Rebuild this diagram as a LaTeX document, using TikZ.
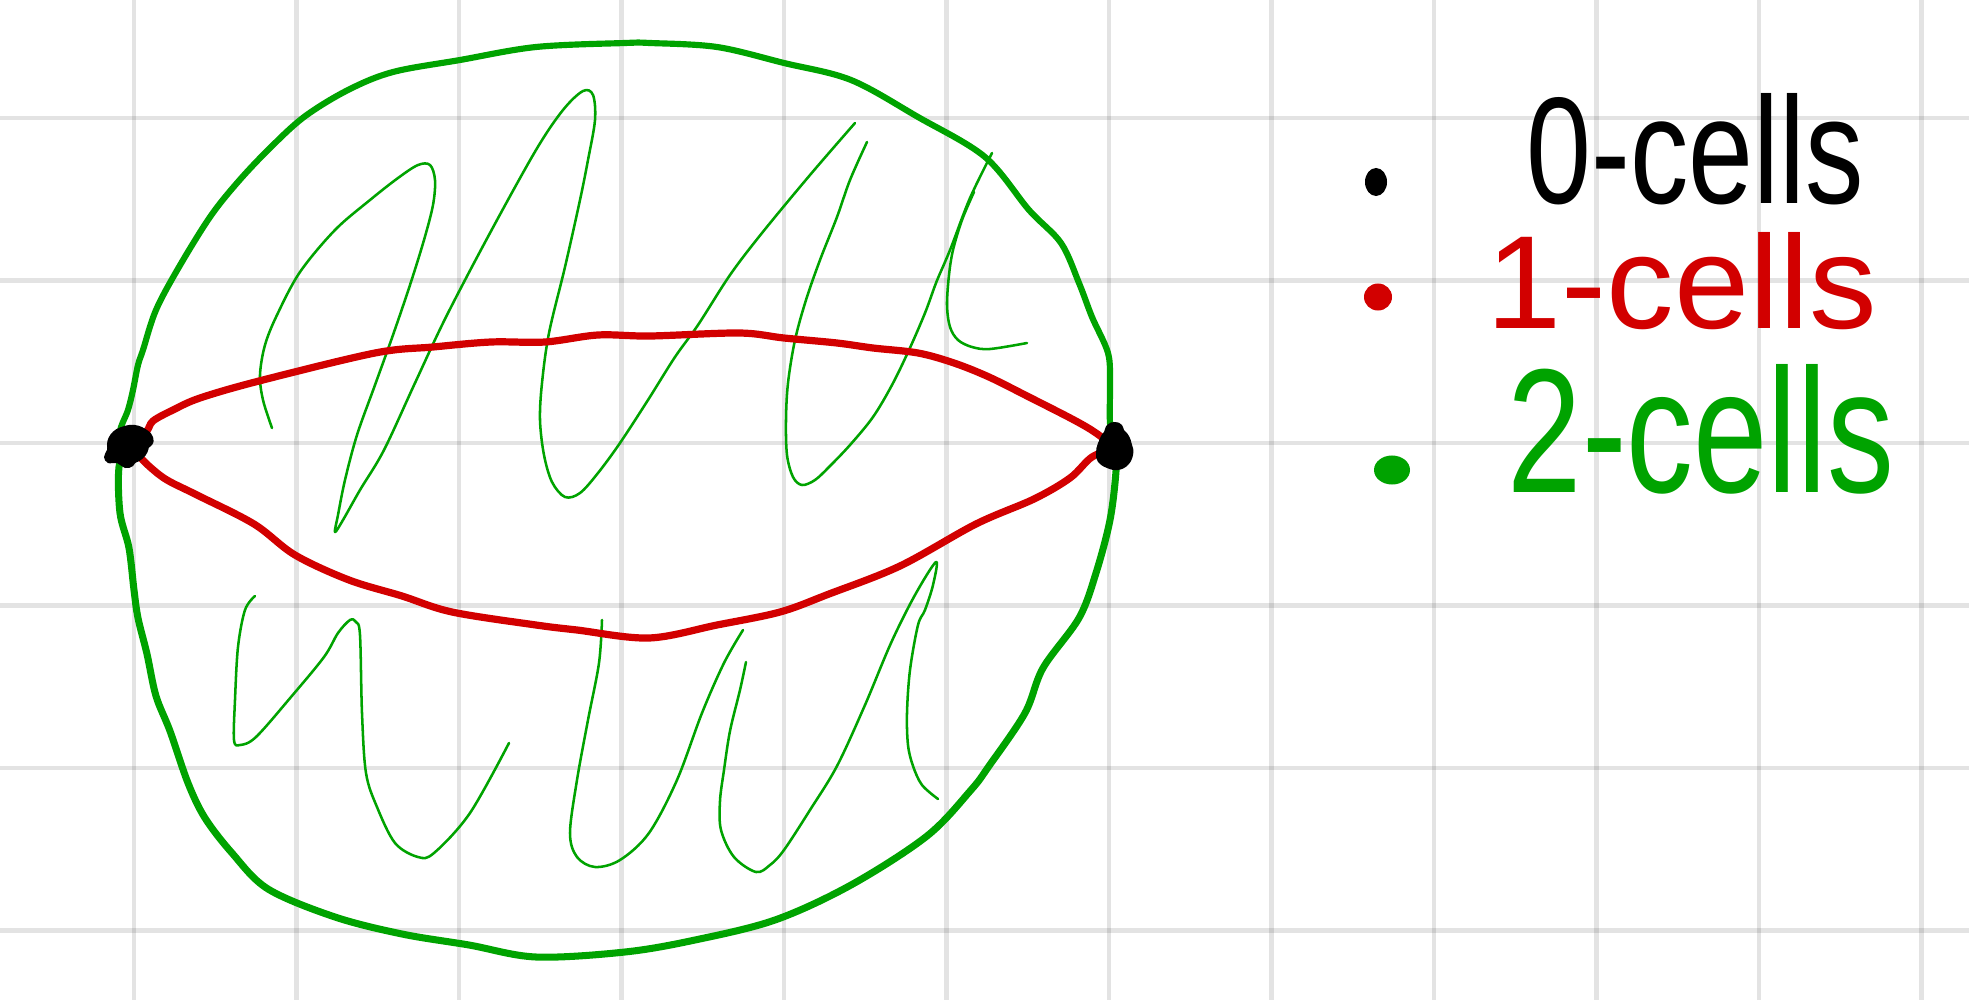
\documentclass[tikz,border=0pt]{standalone}
\usepackage{fontspec}
\usepackage{graphicx}
\usetikzlibrary{shapes.geometric}
\newfontfamily\legendfont{Liberation Sans}
\definecolor{pgreen}{RGB}{0,163,0}
\definecolor{pred}{RGB}{210,0,0}
\pgfdeclarelayer{bg}
\pgfsetlayers{bg,main}
\begin{document}
\begin{tikzpicture}[x=0.01cm, y=-0.01cm,
  gridline/.style={draw=black, opacity=0.11, line width=1.4pt},
  outerup/.style={draw=pgreen, line width=1.75pt, line cap=round, line join=round},
  outerdown/.style={draw=pgreen, line width=2pt, line cap=round, line join=round},
  strand/.style={draw=pgreen, line width=0.72pt, line cap=round, line join=round},
  edgeone/.style={draw=pred, line width=2.05pt, line cap=round, line join=round},
  vertex/.style={ellipse, fill=black, inner sep=0pt},
  legdot/.style={ellipse, inner sep=0pt},
  legtext/.style={anchor=base west, inner sep=0pt}
]
\useasboundingbox (0,0) rectangle (1969,1000);

% 0-cells
\node[vertex, minimum width=0.42cm, minimum height=0.38cm] (v1) at (128,445) {};
\node[vertex, minimum width=0.34cm, minimum height=0.42cm] (v2) at (1115,448) {};
\fill plot[smooth cycle, tension=0.7] coordinates {(112,435) (122,427) (135,425) (147,430) (153,437) (152,445) (142,452) (138,458) (133,466) (125,468) (117,463) (108,463) (104,457) (107,450) (108,442)};
\fill plot[smooth cycle, tension=0.7] coordinates {(1107,425) (1115,422) (1122,425) (1125,433) (1132,445) (1133,455) (1128,465) (1118,470) (1107,468) (1098,462) (1096,453) (1098,443) (1103,435)};

\begin{pgfonlayer}{bg}
\fill[white] (0,0) rectangle (1969,1000);
% grid
\foreach \i in {0,...,11} \draw[gridline] ({134+162.5*\i},0) -- ({134+162.5*\i},1000);
\foreach \j in {0,...,5} \draw[gridline] (0,{118+162.5*\j}) -- (1969,{118+162.5*\j});

% 2-cell hatching strands (upper)
\draw[strand] plot[smooth, tension=0.55] coordinates {(272,428) (263,400) (260,375) (265,345) (277,315) (300,272) (335,230) (370,200) (398,178) (418,165) (430,165) (435,180) (433,205) (424,240) (410,285) (393,335) (375,385) (357,435) (345,480) (338,515) (335,532) (343,520) (360,490) (384,450) (415,383) (446,317) (490,233) (536,150) (563,110) (583,91) (593,95) (595,120) (588,160) (580,200) (565,267) (549,333) (542,383) (540,420) (544,455) (552,482) (565,497) (580,493) (598,473) (620,443) (648,400) (675,357) (698,325) (730,275) (762,233) (810,175) (855,123)};
\draw[strand] plot[smooth, tension=0.55] coordinates {(867,142) (850,180) (837,217) (820,260) (806,300) (795,340) (788,383) (786,420) (787,455) (793,477) (802,485) (815,480) (829,467) (850,445) (873,417) (892,385) (909,350) (925,313) (936,283) (945,262) (952,245) (970,198) (992,153)};
\draw[strand] plot[smooth, tension=0.55] coordinates {(974,192) (962,220) (953,250) (949,275) (947,305) (950,327) (958,340) (972,347) (990,349) (1027,343)};

% 2-cell hatching strands (lower)
\draw[strand] plot[smooth, tension=0.55] coordinates {(255,596) (245,610) (238,647) (235,700) (234,740) (240,745) (256,737) (291,697) (324,657) (338,633) (350,620) (356,622) (360,635) (362,713) (366,773) (377,807) (395,843) (418,857) (434,853) (470,813) (509,743)};
\draw[strand] plot[smooth, tension=0.55] coordinates {(602,620) (599,663) (588,720) (577,780) (570,833) (577,857) (595,867) (620,860) (649,833) (677,780) (702,713) (724,663) (743,630)};
\draw[strand] plot[smooth, tension=0.55] coordinates {(746,662) (740,690) (730,731) (724,770) (720,801) (721,830) (734,857) (756,872) (770,865) (784,850) (810,810) (837,766) (865,705) (891,643) (915,595) (936,562) (933,585) (925,610) (918,625) (910,670) (907,713) (908,745) (913,766) (922,785) (938,799)};

% outer boundary (green)
\draw[outerup] plot[smooth, tension=0.55] coordinates {(v1.center) (120,432) (128,410) (133,390) (138,365) (143,350) (156,310) (179,267) (210,217) (237,183) (268,150) (304,117) (348,90) (393,72) (460,60) (536,47) (625,43) (650,43) (717,47) (784,63) (851,80) (918,117) (985,157) (1029,210) (1061,243) (1079,283) (1092,317) (1108,353) (1110,383) (1110,423) (v2.center)};
\draw[outerdown] plot[smooth, tension=0.55] coordinates {(v1.center) (119,467) (120,513) (129,548) (134,590) (138,618) (147,654) (156,696) (170,731) (188,783) (205,818) (232,853) (268,889) (335,917) (402,934) (469,945) (536,957) (625,952) (695,940) (775,920) (851,885) (927,836) (971,790) (989,766) (1025,713) (1043,668) (1079,618) (1096,573) (1110,520) (1116,471) (v2.center)};

% 1-cells (red)
\draw[edgeone] plot[smooth, tension=0.55] coordinates {(v1.center) (146,432) (153,421) (173,410) (200,398) (259,381) (375,353) (433,347) (491,342) (545,342) (598,335) (650,336) (739,333) (784,338) (837,343) (873,348) (918,353) (954,363) (989,377) (1029,397) (1074,420) (1096,433) (v2.center)};
\draw[edgeone] plot[smooth, tension=0.55] coordinates {(v1.center) (138,455) (150,467) (167,480) (197,495) (254,524) (295,555) (349,580) (402,596) (452,612) (536,625) (577,630) (649,638) (717,625) (780,612) (829,594) (900,566) (976,524) (1034,499) (1070,478) (1092,457) (v2.center)};
\end{pgfonlayer}

% legend
\node[legdot, fill=black, minimum width=0.22cm, minimum height=0.28cm] (d0) at (1376,182) {};
\node[legdot, fill=pred, minimum width=0.28cm, minimum height=0.27cm] (d1) at (1378,297) {};
\node[legdot, fill=pgreen, minimum width=0.36cm, minimum height=0.29cm] (d2) at (1392,470) {};
\node[legtext, text=black] (t0) at (1526,203) {\resizebox{3.37cm}{1.1cm}{\legendfont 0-cells}};
\node[legtext, text=pred] (t1) at (1486,328) {\resizebox{3.9cm}{0.96cm}{\legendfont 1-cells}};
\node[legtext, text=pgreen] (t2) at (1507,492) {\resizebox{3.86cm}{1.28cm}{\legendfont 2-cells}};
\end{tikzpicture}
\end{document}
